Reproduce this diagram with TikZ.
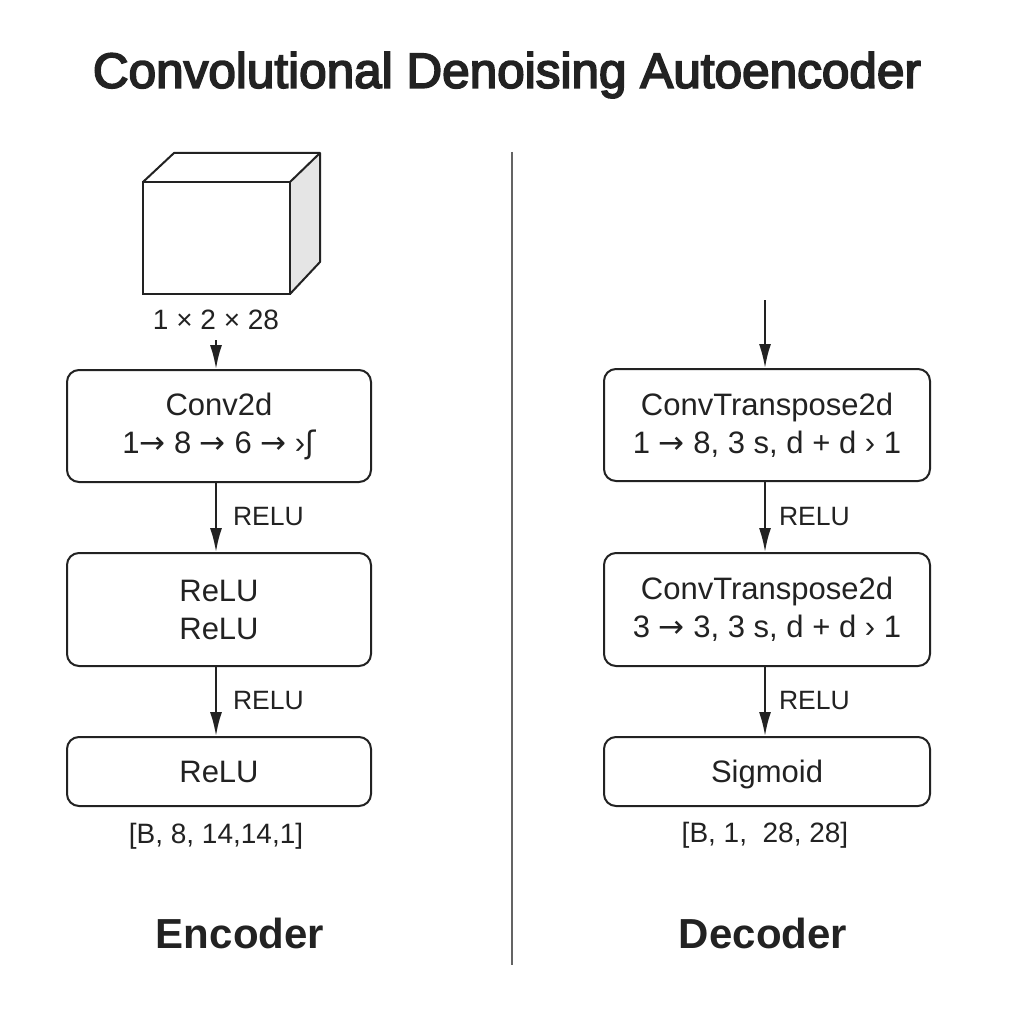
\documentclass[tikz,border=0pt]{standalone}
\usepackage{fontspec}
\setmainfont{Liberation Sans}
\newfontfamily\djv{DejaVu Sans}
\newfontfamily\semib[FakeBold=3.5]{Liberation Sans}
\usetikzlibrary{arrows.meta}
\definecolor{ink}{HTML}{222222}
\newcommand{\ar}{{\djv →}}
\tikzset{
  blk/.style={draw=ink, line width=2pt, rounded corners=12pt, minimum width=304pt, align=center, font=\fontsize{31}{38}\selectfont, text=ink, inner sep=0pt},
  dblk/.style={blk, minimum width=326pt},
  conn/.style={draw=ink, line width=2pt, -{Latex[length=24pt,width=12pt]}},
  lbl/.style={font=\fontsize{26.5}{30}\selectfont, text=ink, anchor=west, inner sep=0pt},
  capt/.style={font=\fontsize{28}{32}\selectfont, text=ink, inner sep=0pt},
  big/.style={font=\fontsize{42}{46}\selectfont\bfseries, text=ink, inner sep=0pt},
}
\begin{document}
\begin{tikzpicture}[x=1pt,y=-1pt]
\useasboundingbox[fill=white] (0,0) rectangle (1024,1024);
% title
\node[font=\fontsize{49.5}{52}\selectfont\semib, text=ink, inner sep=0pt] (title) at (507,75) {Convolutional Denoising Autoencoder};
% divider
\draw[ink!70, line width=1.3pt] (512,152) coordinate (dtop) -- (512,965) coordinate (dbot);
% cube
\fill[gray!20] (290,182) -- (320,153) -- (320,262) -- (290,294) -- cycle;
\draw[ink, line width=2pt] (143,182) rectangle (290,294);
\draw[ink, line width=2pt, line join=round] (143,182) -- (174,153) -- (320,153) -- (320,262) -- (290,294);
\draw[ink, line width=2pt] (290,182) -- (320,153);
\node[capt] (insize) at (216,320) {1 × 2 × 28};
% encoder
\node[blk, minimum height=112pt] (e1) at (219,426) {Conv2d\\1\ar\ 8 \ar\ 6 \ar\ ›{\djv ʃ}};
\node[blk, minimum height=113pt] (e2) at (219,609.5) {ReLU\\ReLU};
\node[blk, minimum height=69pt] (e3) at (219,771.5) {\strut\raisebox{-3pt}{ReLU}};
\coordinate (ein) at (216,340);
\draw[conn] (ein) -- (ein |- e1.north);
\draw[conn] (216,482) coordinate (e1b) -- (e1b |- e2.north) node[lbl, pos=0.5, xshift=16pt] (r1) {RELU};
\draw[conn] (216,666) coordinate (e2b) -- (e2b |- e3.north) node[lbl, pos=0.5, xshift=16pt] (r2) {RELU};
\node[capt] (eout) at (216,836) {[B, 8, 14,14,1]};
\node[big] (enc) at (240,933) {Encoder};
% decoder
\node[dblk, minimum height=112pt] (d1) at (767,425) {ConvTranspose2d\\1 \ar\ 8, 3 s, d + d › 1};
\node[dblk, minimum height=113pt] (d2) at (767,609.5) {ConvTranspose2d\\3 \ar\ 3, 3 s, d + d › 1};
\node[dblk, minimum height=69pt] (d3) at (767,771.5) {\strut\raisebox{-3pt}{Sigmoid}};
\coordinate (din) at (765,300);
\draw[conn] (din) -- (din |- d1.north);
\draw[conn] (765,481) coordinate (d1b) -- (d1b |- d2.north) node[lbl, pos=0.5, xshift=13pt] (r3) {RELU};
\draw[conn] (765,666) coordinate (d2b) -- (d2b |- d3.north) node[lbl, pos=0.5, xshift=13pt] (r4) {RELU};
\node[capt] (dout) at (765,835) {[B, 1,~ 28, 28]};
\node[big] (dec) at (763,933) {Decoder};
\end{tikzpicture}
\end{document}
